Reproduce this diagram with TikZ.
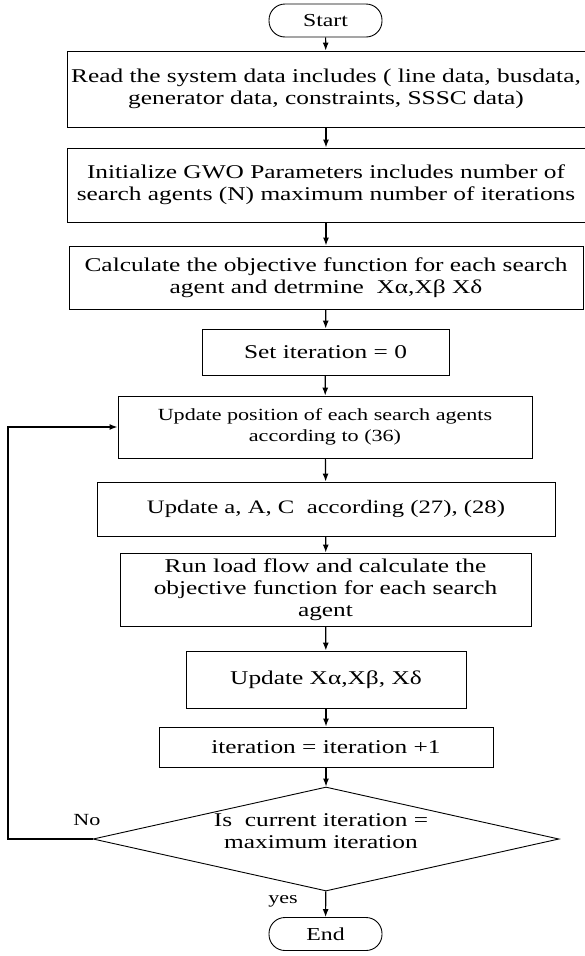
\documentclass[tikz,border=0pt]{standalone}
\usepackage{fontspec}
\setmainfont{Liberation Serif}[FakeStretch=1.3]
\usetikzlibrary{shapes.geometric}
\usetikzlibrary{arrows.meta}
\tikzset{
  procbox/.style={draw, line width=0.9pt, inner sep=0pt, align=center,
    font=\fontsize{19.5}{22}\selectfont},
  termbox/.style={draw, line width=0.9pt, rounded corners=16pt, inner sep=0pt,
    minimum width=113pt, minimum height=33pt, font=\fontsize{18.3}{22}\selectfont},
  decbox/.style={draw, diamond, aspect=4.5, line width=0.9pt, inner sep=0pt},
  flow/.style={line width=1.2pt, -{Latex[length=8pt,width=6pt]}},
  lbl/.style={font=\fontsize{17}{20}\selectfont}
}

\begin{document}
\begin{tikzpicture}[x=1pt, y=-1pt]
		\useasboundingbox (0,0) rectangle (584,956);
		\node[termbox] (start) at (325.5,20.5) {Start};
		\node[procbox, minimum width=518pt, minimum height=76pt] (readdata) at (326,89) {Read the system data includes ( line data, busdata,\\ generator data, constraints, SSSC data)};
		\node[procbox, minimum width=518pt, minimum height=74pt] (initgwo) at (326,185) {Initialize GWO Parameters includes number of\\ search agents (N) maximum number of iterations};
		\node[procbox, minimum width=514pt, minimum height=63pt] (calcobj) at (326,277.5) {Calculate the objective function for each search\\ agent and detrmine\ \ Xα,Xβ Xδ};
		\node[procbox, minimum width=247pt, minimum height=46pt] (setiter) at (325.5,352) {Set iteration = 0};
		\node[procbox, minimum width=414pt, minimum height=62pt, font=\fontsize{17}{21}\selectfont] (updpos) at (325,427) {Update position of each search agents\\ according to (36)};
		\node[procbox, minimum width=458pt, minimum height=54pt, font=\fontsize{19}{22}\selectfont] (updaac) at (326,509) {Update a, A, C\ \ according (27), (28)};
		\node[procbox, minimum width=411pt, minimum height=73pt] (loadflow) at (325.5,589.5) {Run load flow and calculate the\\ objective function for each search\\ agent};
		\node[procbox, minimum width=280pt, minimum height=57pt] (updx) at (326,679.5) {Update Xα,Xβ, Xδ};
		\node[procbox, minimum width=334pt, minimum height=40pt] (inciter) at (326,747) {iteration = iteration +1};
		\node[decbox, minimum width=466pt, minimum height=104pt] (check) at (326,839) {};
		\node[procbox, draw=none] (checktext) at (321,831) {Is\ \ current iteration =\\ maximum iteration};
		\node[termbox] (finish) at (325.5,934) {End};
		%
		\draw[flow] (start) -- (readdata);
		\draw[flow] (readdata) -- (initgwo);
		\draw[flow] (initgwo) -- (calcobj);
		\draw[flow] (calcobj) -- (setiter);
		\draw[flow] (setiter) -- (updpos);
		\draw[flow] (updpos) -- (updaac);
		\draw[flow] (updaac) -- (loadflow);
		\draw[flow] (loadflow) -- (updx);
		\draw[flow] (updx) -- (inciter);
		\draw[flow] (inciter) -- (check);
		\draw[flow] (check) -- (finish);
		%
		\coordinate (loopcorner) at (8,839);
		\draw[flow, line width=1.5pt] (check.west) -- (loopcorner) |- (updpos.west);
		%
		\node[lbl] (nolbl) at (87,820) {No};
		\node[lbl] (yeslbl) at (283,901) {yes};
	\end{tikzpicture}
\end{document}
